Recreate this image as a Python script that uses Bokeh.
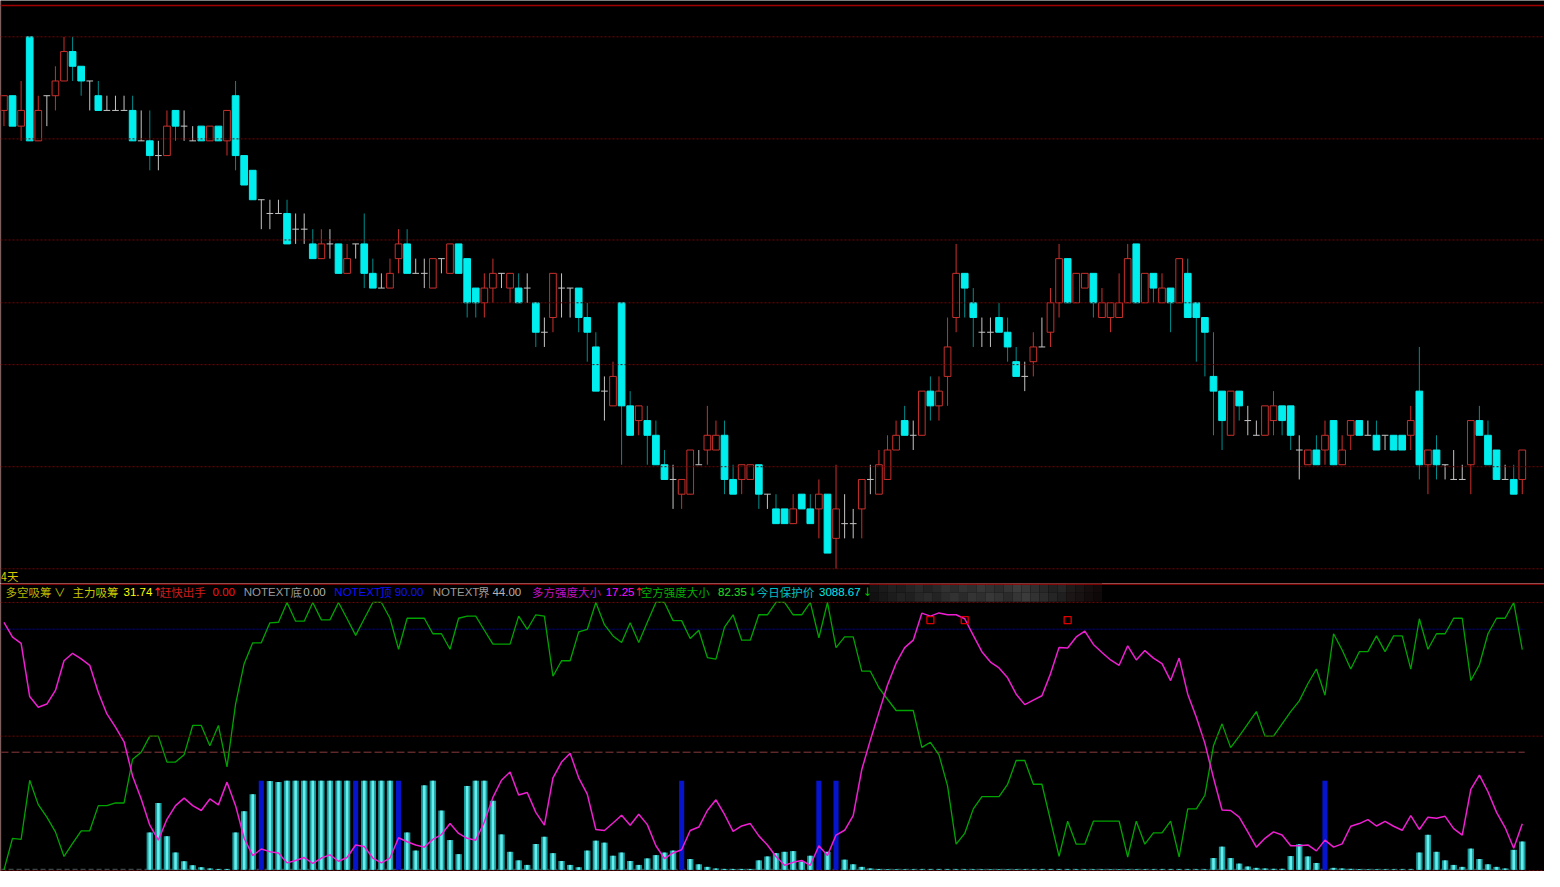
from bokeh.plotting import figure
from bokeh.models import Range1d, Span
from bokeh.layouts import column
from bokeh.embed import file_html
from bokeh.resources import INLINE
from bokeh.core.properties import value

# ---------------- data (daily candles, oldest first) ----------------
opens = [8.88, 9.03, 8.72, 9.63, 8.57, 9.03, 9.03, 9.18, 9.48, 9.33,
         9.18, 9.03, 8.88, 8.88, 8.88, 8.88, 8.57, 8.57, 8.42, 8.42,
         8.88, 8.72, 8.57, 8.72, 8.57, 8.72, 8.57, 9.03, 8.42, 8.27,
         7.97, 7.83, 7.83, 7.83, 7.67, 7.67, 7.52, 7.37, 7.52, 7.52,
         7.22, 7.52, 7.52, 7.22, 7.07, 7.07, 7.37, 7.52, 7.22, 7.22,
         7.07, 7.37, 7.22, 7.52, 7.37, 7.07, 6.92, 7.07, 7.22, 7.07,
         7.07, 7.07, 6.92, 6.62, 6.77, 7.07, 7.07, 7.07, 6.77, 6.47,
         6.02, 5.87, 6.92, 5.87, 5.72, 5.72, 5.57, 5.27, 5.12, 4.97,
         4.97, 5.27, 5.42, 5.42, 5.57, 5.12, 5.12, 5.12, 5.27, 4.97,
         4.82, 4.82, 4.67, 4.97, 4.82, 4.82, 4.97, 4.52, 4.67, 4.67,
         4.82, 5.12, 4.97, 5.12, 5.42, 5.72, 5.57, 5.57, 6.02, 5.87,
         6.17, 6.77, 7.22, 6.92, 6.62, 6.62, 6.77, 6.62, 6.32, 6.17,
         6.32, 6.47, 6.62, 6.92, 7.37, 6.92, 7.07, 7.22, 6.77, 6.77,
         6.77, 6.92, 7.52, 6.92, 7.22, 6.92, 7.07, 6.92, 7.22, 6.92,
         6.77, 6.17, 6.02, 5.57, 6.02, 5.72, 5.57, 5.57, 5.72, 5.87,
         5.87, 5.42, 5.27, 5.42, 5.42, 5.72, 5.27, 5.57, 5.72, 5.57,
         5.57, 5.57, 5.57, 5.57, 5.57, 6.02, 5.27, 5.42, 5.27, 5.12,
         5.12, 5.27, 5.72, 5.57, 5.42, 5.12, 5.12, 5.12]
highs = [9.03, 9.03, 9.18, 9.63, 9.03, 9.03, 9.33, 9.63, 9.63, 9.33,
         9.18, 9.18, 9.03, 9.03, 9.03, 9.03, 8.88, 8.88, 8.57, 8.88,
         8.88, 8.88, 8.72, 8.72, 8.72, 8.72, 8.88, 9.18, 8.42, 8.27,
         7.97, 7.97, 7.97, 7.97, 7.83, 7.83, 7.67, 7.67, 7.67, 7.52,
         7.52, 7.52, 7.83, 7.37, 7.22, 7.37, 7.67, 7.67, 7.37, 7.37,
         7.37, 7.37, 7.52, 7.52, 7.37, 7.07, 7.22, 7.37, 7.22, 7.22,
         7.22, 7.22, 6.92, 6.77, 7.22, 7.22, 7.07, 7.07, 6.92, 6.62,
         6.17, 6.32, 6.92, 6.02, 5.87, 5.87, 5.72, 5.42, 5.27, 5.12,
         5.42, 5.42, 5.87, 5.72, 5.72, 5.27, 5.27, 5.27, 5.27, 4.97,
         4.97, 4.82, 4.97, 4.97, 4.97, 5.12, 4.97, 5.27, 4.97, 4.82,
         5.12, 5.27, 5.42, 5.57, 5.72, 5.87, 5.72, 6.02, 6.17, 6.17,
         6.77, 7.52, 7.22, 7.07, 6.77, 6.77, 6.92, 6.77, 6.47, 6.32,
         6.62, 6.77, 7.07, 7.52, 7.37, 7.22, 7.22, 7.22, 7.07, 6.92,
         7.22, 7.52, 7.52, 7.22, 7.22, 7.22, 7.07, 7.37, 7.37, 6.92,
         6.77, 6.62, 6.02, 6.02, 6.02, 5.87, 5.72, 5.87, 6.02, 5.87,
         5.87, 5.57, 5.42, 5.57, 5.72, 5.72, 5.57, 5.72, 5.72, 5.72,
         5.72, 5.57, 5.57, 5.57, 5.87, 6.47, 5.42, 5.57, 5.27, 5.42,
         5.27, 5.72, 5.87, 5.72, 5.42, 5.27, 5.27, 5.42]
lows = [8.72, 8.72, 8.57, 8.57, 8.57, 8.72, 8.88, 9.18, 9.18, 9.03,
        8.88, 8.88, 8.88, 8.88, 8.88, 8.57, 8.57, 8.27, 8.27, 8.42,
        8.57, 8.57, 8.57, 8.57, 8.57, 8.57, 8.42, 8.27, 8.12, 7.97,
        7.67, 7.67, 7.83, 7.52, 7.52, 7.52, 7.37, 7.37, 7.37, 7.22,
        7.22, 7.37, 7.07, 7.07, 7.07, 7.07, 7.22, 7.22, 7.22, 7.07,
        7.07, 7.22, 7.22, 7.22, 6.77, 6.77, 6.77, 6.92, 7.07, 6.92,
        6.92, 6.92, 6.47, 6.47, 6.62, 6.77, 6.77, 6.62, 6.32, 6.02,
        5.72, 5.87, 5.27, 5.57, 5.57, 5.27, 5.27, 5.12, 4.82, 4.82,
        4.97, 5.27, 5.27, 5.42, 4.97, 4.97, 4.97, 5.12, 4.82, 4.82,
        4.67, 4.67, 4.67, 4.82, 4.67, 4.52, 4.37, 4.21, 4.52, 4.52,
        4.52, 4.97, 4.97, 5.12, 5.42, 5.57, 5.42, 5.57, 5.72, 5.72,
        5.87, 6.62, 6.77, 6.47, 6.47, 6.47, 6.62, 6.32, 6.17, 6.02,
        6.17, 6.47, 6.47, 6.77, 6.92, 6.92, 7.07, 6.77, 6.77, 6.62,
        6.77, 6.92, 6.92, 6.92, 6.92, 6.92, 6.62, 6.92, 6.77, 6.32,
        6.17, 5.57, 5.42, 5.57, 5.72, 5.57, 5.57, 5.57, 5.57, 5.57,
        5.42, 5.12, 5.27, 5.27, 5.27, 5.27, 5.27, 5.42, 5.57, 5.57,
        5.42, 5.42, 5.42, 5.42, 5.42, 5.12, 4.97, 5.12, 5.12, 5.12,
        5.12, 4.97, 5.57, 5.27, 5.12, 5.12, 4.97, 4.97]
closes = [9.03, 8.72, 8.88, 8.57, 8.88, 9.03, 9.18, 9.48, 9.33, 9.18,
          9.18, 8.88, 8.88, 8.88, 8.88, 8.57, 8.57, 8.42, 8.42, 8.72,
          8.72, 8.72, 8.57, 8.57, 8.72, 8.57, 8.88, 8.42, 8.12, 7.97,
          7.97, 7.83, 7.83, 7.52, 7.67, 7.67, 7.37, 7.52, 7.52, 7.22,
          7.37, 7.52, 7.22, 7.07, 7.07, 7.22, 7.52, 7.22, 7.22, 7.22,
          7.37, 7.37, 7.52, 7.22, 6.92, 6.92, 7.07, 7.22, 7.22, 7.22,
          6.92, 7.07, 6.62, 6.62, 7.22, 7.07, 7.07, 6.77, 6.62, 6.02,
          6.02, 6.17, 5.87, 5.57, 5.87, 5.57, 5.27, 5.12, 5.12, 5.12,
          5.42, 5.27, 5.57, 5.57, 5.12, 4.97, 5.27, 5.27, 4.97, 4.97,
          4.67, 4.67, 4.82, 4.82, 4.67, 4.97, 4.37, 4.82, 4.67, 4.67,
          5.12, 5.12, 5.27, 5.42, 5.57, 5.57, 5.57, 6.02, 5.87, 6.02,
          6.47, 7.22, 7.07, 6.77, 6.62, 6.62, 6.62, 6.47, 6.17, 6.17,
          6.47, 6.47, 6.92, 7.37, 6.92, 7.22, 7.22, 6.92, 6.92, 6.92,
          6.92, 7.37, 6.92, 7.22, 7.07, 7.07, 6.92, 7.37, 6.77, 6.77,
          6.62, 6.02, 5.72, 6.02, 5.87, 5.72, 5.57, 5.87, 5.87, 5.72,
          5.57, 5.42, 5.42, 5.27, 5.57, 5.27, 5.42, 5.72, 5.57, 5.57,
          5.42, 5.57, 5.42, 5.42, 5.72, 5.27, 5.42, 5.27, 5.27, 5.12,
          5.12, 5.72, 5.57, 5.27, 5.12, 5.12, 4.97, 5.42]
price_grid = [9.63, 8.59, 7.56, 6.92, 6.29, 5.25]
price_floor = 4.21

# indicator: 主力吸筹 (0-100, drawn at one third), 多方强度, 空方强度
xichou = [0, 0, 0, 0, 0, 0, 0, 0, 0, 0,
          0, 0, 0, 0, 0, 0, 0, 41.9, 75.0, 37.8,
          19.4, 9.5, 5.1, 2.9, 1.4, 0.8, 0.8, 41.9, 65.7, 84.9,
          100, 99.6, 98.5, 100, 100, 100, 100, 100, 100, 100,
          100, 100, 100, 100, 100, 100, 100, 41.9, 21.6, 94.8,
          100, 66.5, 33.4, 17.6, 94.1, 100, 100, 77.5, 39.7, 20.2,
          10.6, 5.5, 29.0, 37.1, 18.7, 9.9, 5.5, 2.9, 21.6, 32.7,
          30.5, 15.8, 19.4, 9.9, 5.5, 12.8, 16.5, 19.4, 21.6, 100,
          12.1, 6.2, 3.3, 1.5, 1.0, 1.0, 1.0, 1.0, 10.6, 15.0,
          18.7, 20.2, 21.0, 9.2, 15.8, 100, 20.2, 100, 11.4, 6.2,
          3.3, 1.5, 1.0, 0.7, 0.6, 0.6, 0.6, 0.6, 0.6, 0.6,
          0.6, 0.6, 0.6, 0.6, 0.6, 0.6, 0.6, 0.6, 0.6, 0.6,
          0.6, 0.6, 0.6, 0.6, 0.6, 0.6, 0.6, 0.6, 0.6, 0.6,
          0.6, 0.6, 0.6, 0.6, 0.6, 0.6, 0.6, 0.6, 0.6, 0.6,
          0.6, 13.2, 26.0, 13.2, 7.0, 3.7, 2.2, 1.5, 1.1, 1.1,
          15.4, 28.7, 15.0, 7.7, 100, 2.2, 1.5, 1.1, 0.8, 0.6,
          0.6, 0.6, 0.6, 0.6, 0.6, 19.4, 39.3, 20.2, 10.6, 5.5,
          3.3, 23.8, 12.1, 6.2, 3.3, 1.5, 22.4, 31.74]
duofang = [92.6, 87.0, 84.7, 64.8, 60.8, 62.0, 67.1, 78.2, 81.0, 78.9,
           76.5, 66.3, 58.3, 53.4, 47.9, 35.0, 26.5, 16.7, 11.1, 18.9,
           24.0, 26.8, 24.0, 22.2, 26.5, 24.3, 32.8, 24.0, 11.8, 5.3,
           7.8, 6.8, 6.3, 2.6, 3.5, 4.6, 2.4, 4.4, 5.6, 3.2,
           4.6, 9.3, 8.7, 4.4, 2.6, 4.4, 12.0, 10.5, 9.3, 8.5,
           11.4, 13.2, 17.3, 13.6, 11.8, 11.1, 17.9, 27.1, 33.5, 36.6,
           28.0, 28.9, 21.5, 16.7, 34.4, 40.3, 43.6, 34.4, 28.3, 15.1,
           14.7, 17.5, 20.4, 16.7, 20.8, 16.9, 9.0, 4.2, 6.3, 7.5,
           14.7, 16.0, 22.2, 26.2, 20.7, 14.4, 16.4, 17.3, 12.7, 9.3,
           5.0, 1.7, 2.8, 3.5, 1.7, 9.0, 5.4, 13.0, 14.8, 20.3,
           37.5, 48.5, 58.9, 69.1, 77.3, 83.1, 85.9, 96.0, 94.9, 96.1,
           95.4, 95.4, 93.9, 87.7, 81.6, 77.7, 75.5, 71.8, 65.7, 61.8,
           63.5, 65.1, 73.3, 83.2, 83.0, 87.1, 89.3, 84.3, 81.3, 78.5,
           76.5, 83.8, 78.5, 82.0, 79.2, 77.1, 70.8, 79.2, 65.7, 57.1,
           47.3, 34.4, 22.4, 22.2, 19.7, 14.2, 8.5, 11.8, 14.2, 13.0,
           9.0, 9.0, 9.3, 7.1, 11.1, 8.5, 9.7, 16.3, 17.3, 18.8,
           16.4, 18.1, 16.3, 14.8, 20.3, 15.1, 19.7, 19.3, 20.0, 15.4,
           13.0, 30.1, 35.4, 29.2, 21.5, 15.8, 8.1, 17.25]
kongfang = [0.0, 11.8, 11.4, 33.5, 24.4, 19.7, 14.2, 5.0, 9.9, 14.6,
            14.6, 24.0, 24.0, 25.0, 25.0, 41.4, 44.0, 50.0, 50.0, 40.3,
            40.3, 43.0, 54.0, 54.0, 46.4, 54.0, 38.5, 62.0, 77.1, 84.9,
            84.9, 92.4, 92.6, 100, 93.0, 93.0, 100, 93.5, 93.5, 100,
            93.9, 87.7, 93.9, 100, 100, 94.1, 82.5, 94.1, 94.1, 94.1,
            88.3, 88.3, 82.5, 94.1, 94.9, 94.9, 89.6, 84.4, 84.4, 84.4,
            94.9, 89.9, 95.4, 94.9, 72.4, 78.2, 78.2, 89.0, 89.9, 100,
            91.7, 87.5, 85.0, 92.4, 85.0, 92.6, 100, 100, 93.2, 93.2,
            86.5, 89.6, 79.4, 78.8, 90.8, 95.4, 85.9, 85.9, 95.4, 95.4,
            100, 100, 95.4, 95.4, 100, 86.8, 100, 83.1, 87.1, 87.1,
            74.3, 74.3, 68.1, 63.8, 59.6, 59.6, 59.6, 45.8, 47.7, 43.0,
            31.4, 9.6, 13.6, 22.8, 27.4, 27.4, 27.4, 32.0, 40.9, 40.9,
            32.0, 32.0, 18.5, 5.0, 18.2, 9.6, 9.6, 18.2, 18.2, 18.2,
            18.2, 4.8, 18.2, 9.6, 13.8, 13.8, 18.2, 4.8, 22.8, 22.8,
            27.9, 46.4, 54.6, 45.7, 50.0, 54.6, 59.2, 50.0, 50.0, 54.6,
            59.2, 63.2, 69.6, 75.1, 65.3, 88.3, 82.2, 75.1, 81.6, 81.6,
            87.5, 81.6, 87.5, 87.5, 75.1, 93.9, 82.5, 88.3, 88.3, 94.1,
            94.1, 70.8, 76.7, 88.3, 94.1, 94.1, 100, 82.35]
blue_idx = [30, 41, 46, 79, 95, 97, 154]        # full-strength signal bars
red_sq_idx = [108, 112, 124]                      # 出手 markers
red_sq_level = 93.4
ind_levels = {"bottom": 0.0, "top": 90.0, "bound": 44.0}

# ---------------- geometry helpers ----------------
REF_W, REF_H = 1560, 887
W, H = 1544, 871
STEP, FIRST = 8.667, 3.5


def px(xr):
    return (xr - FIRST) / STEP


X0, X1 = px(0), px(REF_W)
HA = round(594 * H / REF_H)
HB = H - HA


def iv(yr):          # reference pixel row -> indicator value
    return (885.3 - yr) / 2.72


n = len(opens)
idx = list(range(n))

RED = "#c8302c"
CYAN = "#00eeee"
CYAN_WICK = "#008c8c"
GRAY = "#c4c4c4"
GRID = "#7a0000"

# ---------------- candlestick panel ----------------
xr = Range1d(X0, X1)
p1 = figure(width=W, height=HA, x_range=xr, y_range=Range1d(4.06, 10.0),
            x_axis_type=None, y_axis_type=None, toolbar_location=None,
            output_backend="svg", background_fill_color="black",
            border_fill_color="black", outline_line_color=None, min_border=0)
p1.grid.visible = False

for lv in price_grid:
    p1.add_layout(Span(location=lv, dimension="width", line_color=GRID,
                       line_dash="2 2", line_width=1))
p1.add_layout(Span(location=price_floor, dimension="width", line_color=GRID,
                   line_dash="2 2", line_width=1))
p1.add_layout(Span(location=9.95, dimension="width", line_color="#a00000",
                   line_width=1.5))
p1.add_layout(Span(location=px(0.5), dimension="height", line_color=GRID,
                   line_width=1))

up = [i for i in idx if closes[i] > opens[i]]
dn = [i for i in idx if closes[i] < opens[i]]
dj = [i for i in idx if closes[i] == opens[i]]
wcol = [RED if closes[i] > opens[i] else (CYAN_WICK if closes[i] < opens[i] else GRAY)
        for i in idx]

p1.segment(x0=idx, y0=lows, x1=idx, y1=highs, line_color=wcol, line_width=1)
p1.vbar(x=up, width=0.78, top=[closes[i] for i in up], bottom=[opens[i] for i in up],
        fill_color="black", line_color=RED, line_width=1)
p1.vbar(x=dn, width=0.78, top=[opens[i] for i in dn], bottom=[closes[i] for i in dn],
        fill_color=CYAN, line_color=CYAN, line_width=1)
p1.segment(x0=[i - 0.39 for i in dj], y0=[opens[i] for i in dj],
           x1=[i + 0.39 for i in dj], y1=[opens[i] for i in dj],
           line_color=GRAY, line_width=1)

p1.text(x=[px(0)], y=[4.14], text=["4天"], text_color="#d8c800",
        text_font=value("Noto Sans CJK SC"), text_font_size="11.5px",
        text_baseline="middle", text_align="left")

# ---------------- indicator panel ----------------
p2 = figure(width=W, height=HB, x_range=xr, y_range=Range1d(iv(887), iv(594)),
            x_axis_type=None, y_axis_type=None, toolbar_location=None,
            output_backend="svg", background_fill_color="black",
            border_fill_color="black", outline_line_color=None, min_border=0)
p2.grid.visible = False

for lv in (100, 50):
    p2.add_layout(Span(location=lv, dimension="width", line_color=GRID,
                       line_dash="2 2", line_width=1))
p2.add_layout(Span(location=iv(886), dimension="width", line_color=GRID,
                   line_dash="2 2", line_width=1))
p2.add_layout(Span(location=px(0.5), dimension="height", line_color=GRID,
                   line_width=1))
xe = px(1540)
p2.segment(x0=[X0], y0=[ind_levels["top"]], x1=[xe], y1=[ind_levels["top"]],
           line_color="#0000b4", line_dash="2 2", line_width=1)
p2.segment(x0=[X0], y0=[ind_levels["bound"]], x1=[xe], y1=[ind_levels["bound"]],
           line_color="#8a3c3c", line_dash="8 3", line_width=1)
p2.segment(x0=[X0], y0=[ind_levels["bottom"] + 0.2], x1=[xe], y1=[ind_levels["bottom"] + 0.2],
           line_color="#4a5a5a", line_dash="5 3", line_width=1)

cx = [i for i in idx if i not in blue_idx and xichou[i] > 0]
p2.vbar(x=cx, width=0.74, top=[xichou[i] / 3 for i in cx], bottom=0,
        fill_color="#1b9c9c", line_color=None)
p2.vbar(x=cx, width=0.3, top=[xichou[i] / 3 for i in cx], bottom=0,
        fill_color="#66eeee", line_color=None)
p2.vbar(x=blue_idx, width=0.6, top=[xichou[i] / 3 for i in blue_idx], bottom=0,
        fill_color="#0614cc", line_color=None)

p2.line(idx, kongfang, line_color="#00a400", line_width=1.3)
p2.line(idx, duofang, line_color="#f01ed2", line_width=1.5)
p2.scatter(x=red_sq_idx, y=[red_sq_level] * len(red_sq_idx), marker="square",
           size=7, line_color="#e00000", fill_color=None, line_width=1.3)

# separator line and header
p2.add_layout(Span(location=iv(594.6), dimension="width", line_color="#a00000",
                   line_width=1.5))

hy = iv(603)
cjk = [("多空吸筹", 5, "#b8b400"), ("∨", 54, "#b8b400"), ("主力吸筹", 72.7, "#c8c800"),
       ("赶快出手", 161, "#cc1c1c"), ("底", 293, "#9a9a9a"), ("顶", 383.5, "#1010ff"),
       ("界", 482.5, "#9a9a9a"), ("多方强度大小", 537, "#c010c0"),
       ("空方强度大小", 647, "#00b000"), ("今日保护价", 764, "#00c0c0")]
lat = [("31.74", 124.3, "#ffff00"), ("0.00", 214.3, "#ff1010"), ("NOTEXT", 245.7, "#9a9a9a"),
       ("0.00", 306, "#b4b4b4"), ("NOTEXT", 337.3, "#1010ff"), ("90.00", 398.3, "#1010ff"),
       ("NOTEXT", 436.7, "#9a9a9a"), ("44.00", 497, "#b4b4b4"), ("17.25", 611.5, "#ff10ff"),
       ("82.35", 725, "#20e020"), ("3088.67", 827, "#00e8e8")]
arr = [("↑", 154, "#ff2020"), ("↑", 640.5, "#ff2020"), ("↓", 755, "#00c000"),
       ("↓", 871.5, "#00c000")]
for items, font in ((cjk, "Noto Sans CJK SC"), (lat, "Liberation Sans"), (arr, "DejaVu Sans")):
    p2.text(x=[px(t[1]) for t in items], y=[hy] * len(items), text=[t[0] for t in items],
            text_color=[t[2] for t in items], text_font=value(font),
            text_font_size="11.5px", text_baseline="middle", text_align="left")

# mosaic (redacted) block over the header line
shades = ["#141414", "#1a1a1a", "#202020", "#1d1d1d", "#242424", "#2a2a2a", "#222222",
          "#282828", "#313131", "#2b2b2b", "#333333", "#2e2e2e", "#373737", "#313131",
          "#2c2c2c", "#353535", "#3c3c3c", "#373737", "#2f2f2f", "#282828", "#212121",
          "#262626", "#1f1a1a", "#1a1414", "#160e0e", "#120a0a"]
shades2 = ["#111111", "#171717", "#1c1c1c", "#222222", "#1f1f1f", "#272727", "#2b2b2b",
           "#232323", "#2c2c2c", "#323232", "#2a2a2a", "#343434", "#2f2f2f", "#383838",
           "#333333", "#2b2b2b", "#353535", "#3b3b3b", "#323232", "#2c2c2c", "#252525",
           "#1f1f1f", "#1c1616", "#181212", "#130c0c", "#0f0808"]
cw = (1113 - 878) / len(shades)
L = [px(878 + k * cw) for k in range(len(shades))]
R = [px(878 + (k + 1) * cw) for k in range(len(shades))]
p2.quad(left=L, right=R, top=iv(593), bottom=iv(603.5), fill_color=shades, line_color=None)
p2.quad(left=L, right=R, top=iv(603.5), bottom=iv(612.5), fill_color=shades2, line_color=None)

layout = column(p1, p2, spacing=0)
open("out.html", "w").write(file_html(layout, INLINE))
